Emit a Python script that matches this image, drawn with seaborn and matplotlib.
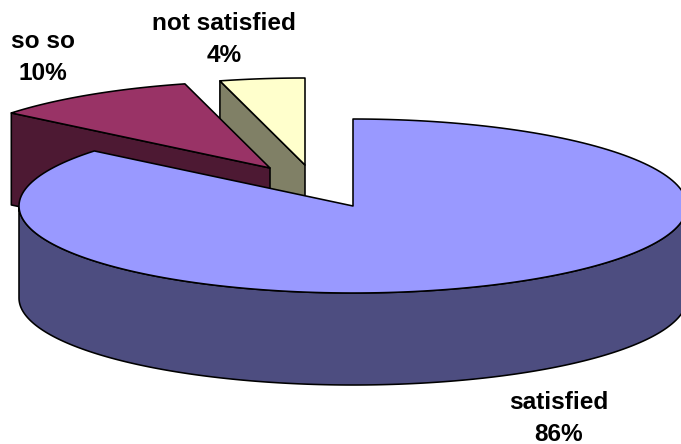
import numpy as np
import matplotlib
matplotlib.use("Agg")
import matplotlib.pyplot as plt
import seaborn as sns

labels = ["satisfied", "so so", "not satisfied"]
values = [85.9, 10.0, 4.1]
top_colors = ["#9999FF", "#993366", "#FFFFCC"]
side_colors = ["#4D4D80", "#4D1933", "#808066"]

sns.set_theme(style="white")
plt.rcParams["font.family"] = ["Liberation Sans", "DejaVu Sans"]

# pixel layout of the tilted pie
RX, RY, DEPTH = 334, 87, 92
apex = {"satisfied": (353, 206), "so so": (270, 168), "not satisfied": (305, 165)}
label_pos = {"satisfied": (559, 418), "so so": (43, 57), "not satisfied": (224, 40)}

fig = plt.figure(figsize=(6.81, 4.44), dpi=100)
ax = fig.add_axes([0, 0, 1, 1])
ax.set_xlim(0, 681)
ax.set_ylim(444, 0)
ax.axis("off")


def rim(cx, cy, a0, a1):
    # degrees clockwise from the top of the ellipse
    t = np.radians(np.linspace(a0, a1, 200))
    return cx + RX * np.sin(t), cy - RY * np.cos(t)


edges = np.cumsum([0] + values) * 3.6
style = dict(edgecolor="black", linewidth=1.15, joinstyle="round")

# back slices first, the big one goes over them
for i in [2, 1, 0]:
    name = labels[i]
    cx, cy = apex[name]
    x, y = rim(cx, cy, edges[i], edges[i + 1])
    if i == 0:
        # curved front wall
        fx, fy = rim(cx, cy, 90, 270)
        ax.fill(np.r_[fx, fx[::-1]], np.r_[fy, fy[::-1] + DEPTH],
                facecolor=side_colors[i], zorder=3, **style)
    else:
        # cut face along the left radius
        ax.fill([x[0], cx, cx, x[0]], [y[0], cy, cy + DEPTH, y[0] + DEPTH],
                facecolor=side_colors[i], zorder=1 + (2 - i), **style)
    ax.fill(np.r_[cx, x], np.r_[cy, y], facecolor=top_colors[i],
            zorder=4 if i == 0 else 1 + (2 - i), **style)

for name, val in zip(labels, values):
    lx, ly = label_pos[name]
    ax.text(lx, ly, f"{name}\n{val:.0f}%", ha="center", va="center", color="black",
            fontsize=17.6, fontweight="bold", linespacing=1.5, zorder=5)

fig.savefig("out.png", dpi=100)
